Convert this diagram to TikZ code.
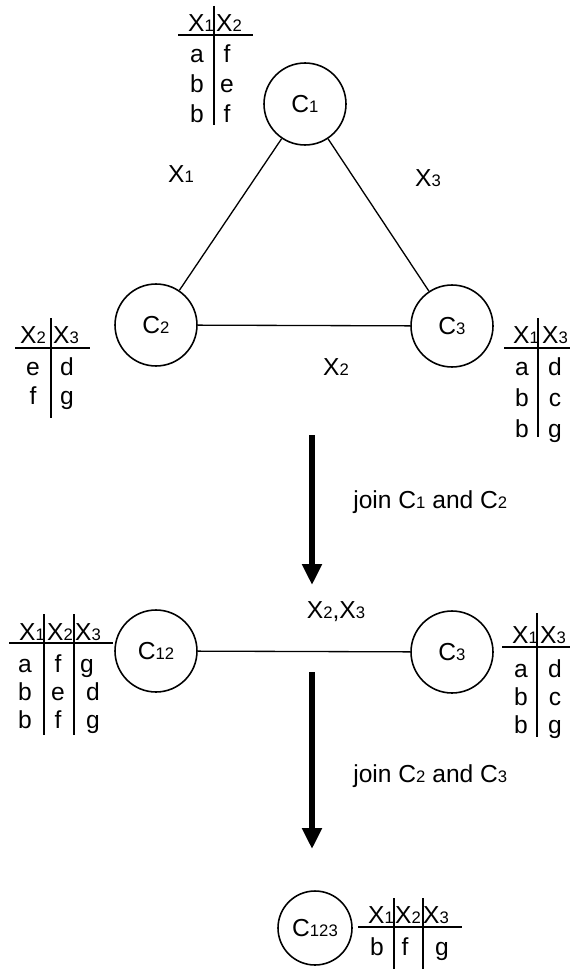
\documentclass[tikz,border=0pt]{standalone}
\usepackage{fontspec}
\setmainfont{Liberation Sans}
\usetikzlibrary{arrows.meta}
\newcommand{\ix}[1]{{\fontsize{9.5}{10}\selectfont #1}}
\tikzset{
  clique/.style={draw, circle, line width=0.9pt, minimum size=1.64cm, inner sep=0pt},
  sepedge/.style={line width=0.75pt},
  tabline/.style={line width=1.1pt},
  cell/.style={anchor=base},
  joinarrow/.style={line width=3.2pt, -{Triangle[length=0.42cm,width=0.38cm]}},
}
\begin{document}
\begin{tikzpicture}[x=0.02cm, y=-0.02cm,
    every node/.style={font=\fontsize{14}{16}\selectfont, inner sep=0pt}]
\useasboundingbox (0,0) rectangle (570,969);
% the clique graph
\node[clique] (c1) at (305,104) {C\ix{1}};
\node[clique] (c2) at (156,325) {C\ix{2}};
\node[clique] (c3) at (452,326) {C\ix{3}};
\draw[sepedge] (c1) -- (c2);
\draw[sepedge] (c1) -- (c3);
\draw[sepedge] (c2) -- (c3);
\node (s12) at (181,174) {X\ix{1}};
\node (s13) at (428,178) {X\ix{3}};
\node (s23) at (336,367) {X\ix{2}};
% table of C1
\draw[tabline] (178,35) -- (253,35);
\draw[tabline] (214,6) -- (214,125);
\node[cell] (t1x1) at (201,32) {X\ix{1}};
\node[cell] (t1x2) at (229,32) {X\ix{2}};
\foreach \a/\b [count=\i] in {a/f,b/e,b/f} {
  \node[cell] (t1a\i) at (197,33+30*\i) {\a};
  \node[cell] (t1b\i) at (227,33+30*\i) {\b};
}
% table of C2
\draw[tabline] (15,348) -- (90,348);
\draw[tabline] (51,318) -- (51,418);
\node[cell] (t2x2) at (33,343) {X\ix{2}};
\node[cell] (t2x3) at (66,343) {X\ix{3}};
\foreach \a/\b [count=\i] in {e/d,f/g} {
  \node[cell] (t2a\i) at (33,346+29*\i) {\a};
  \node[cell] (t2b\i) at (67,346+29*\i) {\b};
}
% table of C3
\draw[tabline] (504,348) -- (570,348);
\draw[tabline] (538,318) -- (538,437);
\node[cell] (t3x1) at (526,343) {X\ix{1}};
\node[cell] (t3x3) at (555,343) {X\ix{3}};
\foreach \a/\b [count=\i] in {a/d,b/c,b/g} {
  \node[cell] (t3a\i) at (522,344+31*\i) {\a};
  \node[cell] (t3b\i) at (555,344+31*\i) {\b};
}
% first join
\coordinate (a1s) at (312,435);
\coordinate (a1e) at (312,585);
\draw[joinarrow] (a1s) -- (a1e);
\node[anchor=base west] (j1) at (353,508) {join C\ix{1} and C\ix{2}};
% after the first join
\node[clique] (c12) at (156,651) {C\ix{12}};
\node[clique] (c3b) at (452,652) {C\ix{3}};
\draw[sepedge] (c12) -- (c3b);
\node (s123) at (336,612) {X\ix{2},X\ix{3}};
% table of C12
\draw[tabline] (9,643) -- (113,643);
\draw[tabline] (44,614) -- (44,735);
\draw[tabline] (74,614) -- (74,735);
\node[cell] (t4x1) at (32,640) {X\ix{1}};
\node[cell] (t4x2) at (60,640) {X\ix{2}};
\node[cell] (t4x3) at (88,640) {X\ix{3}};
\foreach \a/\b/\c/\d [count=\i] in {a/f/g/87,b/e/d/93,b/f/g/93} {
  \node[cell] (t4a\i) at (25,644+28*\i) {\a};
  \node[cell] (t4b\i) at (58,644+28*\i) {\b};
  \node[cell] (t4c\i) at (\d,644+28*\i) {\c};
}
% table of C3 again
\draw[tabline] (502,647) -- (570,647);
\draw[tabline] (537,613) -- (537,737);
\node[cell] (t5x1) at (525,643) {X\ix{1}};
\node[cell] (t5x3) at (553,643) {X\ix{3}};
\foreach \a/\b [count=\i] in {a/d,b/c,b/g} {
  \node[cell] (t5a\i) at (521,649+28*\i) {\a};
  \node[cell] (t5b\i) at (555,649+28*\i) {\b};
}
% second join
\coordinate (a2s) at (312,672);
\coordinate (a2e) at (312,849);
\draw[joinarrow] (a2s) -- (a2e);
\node[anchor=base west] (j2) at (353,782) {join C\ix{2} and C\ix{3}};
% the result
\node[clique, minimum size=1.48cm] (c123) at (315,928) {C\ix{123}};
\draw[tabline] (358,927) -- (462,927);
\draw[tabline] (394,898) -- (394,969);
\draw[tabline] (423,898) -- (423,969);
\node[cell] (t6x1) at (381,923) {X\ix{1}};
\node[cell] (t6x2) at (408,923) {X\ix{2}};
\node[cell] (t6x3) at (436,923) {X\ix{3}};
\node[cell] (t6a) at (377,955) {b};
\node[cell] (t6b) at (405,955) {f};
\node[cell] (t6c) at (442,955) {g};
\end{tikzpicture}
\end{document}
